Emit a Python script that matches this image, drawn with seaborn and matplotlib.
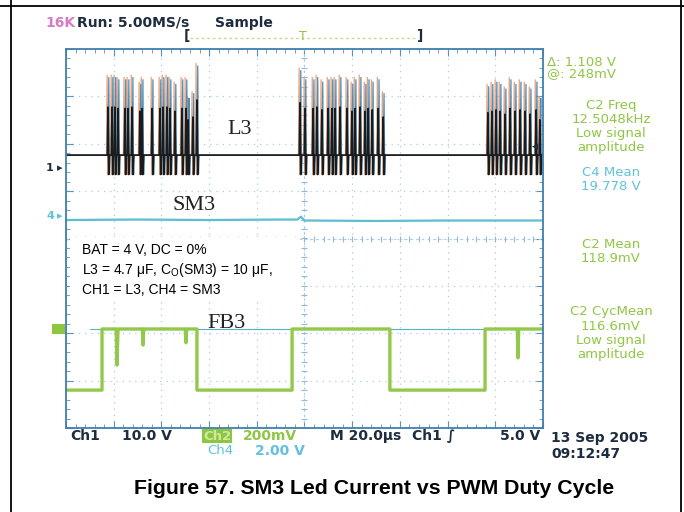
import numpy as np
import pandas as pd
import matplotlib
matplotlib.use("Agg")
import matplotlib.pyplot as plt
from matplotlib.ticker import MultipleLocator
from matplotlib.patches import Rectangle
from matplotlib.lines import Line2D
import seaborn as sns

# ---------------- data (time in us, level in divisions) ----------------
l3_base = 1.76
l3_trough = 1.35
burst_t = [17.6, 19.3, 20.5, 21.8, 24.7, 26.0, 27.7, 31.0, 31.9, 36.1, 39.4, 40.7, 42.3,
           43.6, 45.7, 48.6, 50.3, 51.2, 53.2, 54.9,
           98.1, 100.2, 103.6, 105.2, 107.3, 109.9, 111.5, 112.8, 114.9, 117.8, 119.9,
           121.2, 123.3, 125.4, 126.7, 128.4, 130.9, 133.0,
           176.9, 178.6, 180.3, 182.0, 184.1, 186.2, 188.3, 190.4, 192.5, 194.6, 197.1, 198.7]
burst_peak = [3.45, 3.45, 3.45, 3.4, 3.4, 3.4, 3.45, 3.3, 3.4, 3.4, 3.4, 3.45, 3.45,
              3.4, 3.3, 3.4, 3.4, 3.0, 3.1, 3.7,
              3.6, 3.4, 3.4, 3.45, 3.35, 3.4, 3.4, 3.4, 3.45, 3.4, 3.3, 3.4, 3.45,
              3.3, 3.4, 3.35, 3.4, 3.1,
              3.25, 3.3, 3.35, 3.3, 3.2, 3.4, 3.3, 3.35, 3.3, 3.2, 3.35, 3.0]

sm3_t = [0, 30, 60, 90, 97, 98.5, 100, 130, 160, 200]
sm3_v = [0.39, 0.40, 0.39, 0.40, 0.40, 0.46, 0.38, 0.37, 0.38, 0.38]

fb3_t = [0, 15.1, 15.1, 21.0, 21.4, 21.8, 32.0, 32.3, 32.6, 50.0, 50.3, 50.6, 54.9, 54.9,
         94.8, 94.8, 135.8, 135.8, 175.7, 175.7, 189.2, 189.5, 189.8, 200]
fb3_v = [-3.20, -3.20, -1.91, -1.91, -2.67, -1.91, -1.91, -2.25, -1.91, -1.91, -2.20, -1.91,
         -1.91, -3.20, -3.20, -1.91, -1.91, -3.20, -3.20, -1.91, -1.91, -2.52, -1.91, -1.91]

right_green_1 = ["C2 Freq", "12.5048kHz", "Low signal", "amplitude"]
right_cyan = ["C4 Mean", "19.778 V"]
right_green_2 = ["C2 Mean", "118.9mV"]
right_green_3 = ["C2 CycMean", "116.6mV", "Low signal", "amplitude"]


def spike_trace(shift, frac):
    ts, vs = [0.0], [l3_base]
    for t, p in zip(burst_t, burst_peak):
        ts += [t - 0.3 + shift, t + shift, t + 0.3 + shift, t + 0.6 + shift]
        vs += [l3_base, l3_base + frac * (p - l3_base), l3_trough, l3_base]
    ts.append(200.0)
    vs.append(l3_base)
    return pd.DataFrame({"t": ts, "v": vs})


# ---------------- figure ----------------
sns.set_style("white")
W, H = 684, 512
fig = plt.figure(figsize=(W / 100, H / 100), dpi=100)
fig.patch.set_facecolor("white")

def fx(px):
    return px / W

def fy(py):
    return 1 - py / H

# outer frame lines
fig.add_artist(Line2D([0, 1], [fy(6), fy(6)], color="black", lw=1.3))
fig.add_artist(Line2D([fx(11), fx(11)], [0, 1], color="black", lw=1.3))
fig.add_artist(Line2D([fx(681), fx(681)], [0, 1], color="black", lw=1.3))

ax = fig.add_axes([fx(66), fy(428), (543 - 66) / W, (428 - 49) / H])
ax.set_xlim(0, 200)
ax.set_ylim(-4, 4)
ax.set_xticks(np.arange(0, 201, 20))
ax.set_yticks(np.arange(-4, 5, 1))
ax.xaxis.set_minor_locator(MultipleLocator(4))
ax.yaxis.set_minor_locator(MultipleLocator(0.2))
ax.tick_params(which="both", direction="in", top=True, right=True, bottom=True, left=True,
               labelbottom=False, labelleft=False, color="#5b93bf")
ax.tick_params(which="major", length=5)
ax.tick_params(which="minor", length=3)
ax.grid(True, color="#a9cde3", linestyle=(0, (1, 4)), linewidth=0.9)
for s in ax.spines.values():
    s.set_color("#3f7fae")
    s.set_linewidth(1.3)

# centre cross with small ticks
ax.axhline(0, color="#a9cde3", lw=0.8, ls=(0, (2, 3)))
ax.axvline(100, color="#a9cde3", lw=0.8, ls=(0, (2, 3)))
cx = np.arange(0, 200.1, 4)
cy = np.arange(-4, 4.01, 0.2)
ax.plot(cx, np.zeros_like(cx), ls="none", marker="|", ms=4, color="#8fbcd8", mew=0.8)
ax.plot(np.full_like(cy, 100), cy, ls="none", marker="_", ms=4, color="#8fbcd8", mew=0.8)

# traces
ax.plot([10, 200], [-1.91, -1.91], color="#56b3c4", lw=0.8)
sns.lineplot(data=pd.DataFrame({"t": fb3_t, "v": fb3_v}), x="t", y="v", sort=False,
             estimator=None, color="#93c94a", lw=2.4, ax=ax)
sns.lineplot(data=pd.DataFrame({"t": sm3_t, "v": sm3_v}), x="t", y="v", sort=False,
             estimator=None, color="#5bbfcf", lw=1.6, ax=ax)
sns.lineplot(data=spike_trace(-0.35, 1.0), x="t", y="v", sort=False, estimator=None,
             color="#e9a27c", lw=0.9, ax=ax)
sns.lineplot(data=spike_trace(0.35, 0.97), x="t", y="v", sort=False, estimator=None,
             color="#4f8db5", lw=0.9, ax=ax)
sns.lineplot(data=spike_trace(0.0, 0.6), x="t", y="v", sort=False, estimator=None,
             color="#1b1b1b", lw=1.2, ax=ax)
ax.set_xlabel("")
ax.set_ylabel("")

# trace labels
serif = "Liberation Serif"
ax.text(73, 2.3, "L3", family=serif, fontsize=16, color="#222222", ha="center", va="center")
ax.text(53.5, 0.7, "SM3", family=serif, fontsize=16, color="#222222", ha="center", va="center")
ax.text(67.5, -1.8, "FB3", family=serif, fontsize=16, color="#222222", ha="center", va="center")

# annotation box
fig.add_artist(Rectangle((fx(70), fy(300)), (300 - 70) / W, (300 - 237) / H,
                         facecolor="white", edgecolor="none", zorder=5))
for i, s in enumerate(["BAT = 4 V, DC = 0%",
                       "L3 = 4.7 μF, C$_\\mathregular{O}$(SM3) = 10 μF,",
                       "CH1 = L3, CH4 = SM3"]):
    fig.text(fx(82), fy(250 + 20 * i), s, family="Liberation Sans", fontsize=10,
             color="black", va="center", ha="left", zorder=6)

# top status line
dark = "#1d2c3e"
fig.text(fx(45), fy(23), "16K", fontsize=10, weight="bold", color="#d77cc4", va="center")
fig.text(fx(77), fy(23), "Run: 5.00MS/s", fontsize=10, weight="bold", color=dark, va="center")
fig.text(fx(215), fy(23), "Sample", fontsize=10, weight="bold", color=dark, va="center")
fig.add_artist(Line2D([fx(190), fx(418)], [fy(38), fy(38)], color="#c9db8a", lw=1,
                      ls=(0, (2, 2))))
fig.text(fx(187), fy(36), "[", fontsize=10, weight="bold", color=dark, ha="center", va="center")
fig.text(fx(420), fy(36), "]", fontsize=10, weight="bold", color=dark, ha="center", va="center")
fig.text(fx(303), fy(36), "T", fontsize=9, color="#8dc63f", ha="center", va="center")

# left channel markers
fig.text(fx(50), fy(168), "1", fontsize=8, weight="bold", color=dark, ha="center", va="center")
fig.text(fx(60), fy(168), "▸", fontsize=8, color=dark, ha="center", va="center")
fig.text(fx(50), fy(216), "4", fontsize=8, weight="bold", color="#5fc0dc", ha="center", va="center")
fig.text(fx(60), fy(216), "▸", fontsize=8, color="#5fc0dc", ha="center", va="center")
fig.add_artist(Rectangle((fx(52), fy(334)), 13 / W, 10 / H, facecolor="#8dc63f",
                         edgecolor="none"))
fig.text(fx(535), fy(147), "◂", fontsize=9, color=dark, ha="center", va="center")

# right side readouts
green = "#8fc744"
cyan = "#62c1df"
fig.text(fx(547), fy(62), "Δ: 1.108 V", fontsize=9.5, color=green, va="center")
fig.text(fx(547), fy(74), "@: 248mV", fontsize=9.5, color=green, va="center")
cxr = fx(611)
for i, s in enumerate(right_green_1):
    fig.text(cxr, fy(106 + 13.7 * i), s, fontsize=9.5, color=green, ha="center", va="center")
for i, s in enumerate(right_cyan):
    fig.text(cxr, fy(173 + 13.5 * i), s, fontsize=9.5, color=cyan, ha="center", va="center")
for i, s in enumerate(right_green_2):
    fig.text(cxr, fy(245 + 13.5 * i), s, fontsize=9.5, color=green, ha="center", va="center")
for i, s in enumerate(right_green_3):
    fig.text(cxr, fy(312 + 14.3 * i), s, fontsize=9.5, color=green, ha="center", va="center")

# bottom status line
fig.text(fx(70), fy(436), "Ch1", fontsize=10, weight="bold", color=dark, va="center")
fig.text(fx(122), fy(436), "10.0 V", fontsize=10, weight="bold", color=dark, va="center")
fig.add_artist(Rectangle((fx(202), fy(443)), 30 / W, 14 / H, facecolor="#8dc63f",
                         edgecolor="none"))
fig.text(fx(217), fy(436), "Ch2", fontsize=9.5, weight="bold", color="#cfe8a6",
         ha="center", va="center")
fig.text(fx(243), fy(436), "200mV", fontsize=10, weight="bold", color=green, va="center")
fig.text(fx(207), fy(451), "Ch4", fontsize=9.5, color=cyan, va="center")
fig.text(fx(255), fy(451), "2.00 V", fontsize=10, weight="bold", color=cyan, va="center")
fig.text(fx(330), fy(436), "M 20.0μs", fontsize=10, weight="bold", color=dark, va="center")
fig.text(fx(412), fy(436), "Ch1 ∫", fontsize=10, weight="bold", color=dark, va="center")
fig.text(fx(500), fy(436), "5.0 V", fontsize=10, weight="bold", color=dark, va="center")
fig.text(fx(551), fy(438), "13 Sep 2005", fontsize=10, weight="bold", color=dark, va="center")
fig.text(fx(551), fy(454), "09:12:47", fontsize=10, weight="bold", color=dark, va="center")

# caption
fig.text(fx(374), fy(489), "Figure 57. SM3 Led Current vs PWM Duty Cycle",
         family="Liberation Sans", weight="bold", fontsize=15.3, color="black",
         ha="center", va="center")

fig.savefig("out.png", dpi=100, facecolor="white")
